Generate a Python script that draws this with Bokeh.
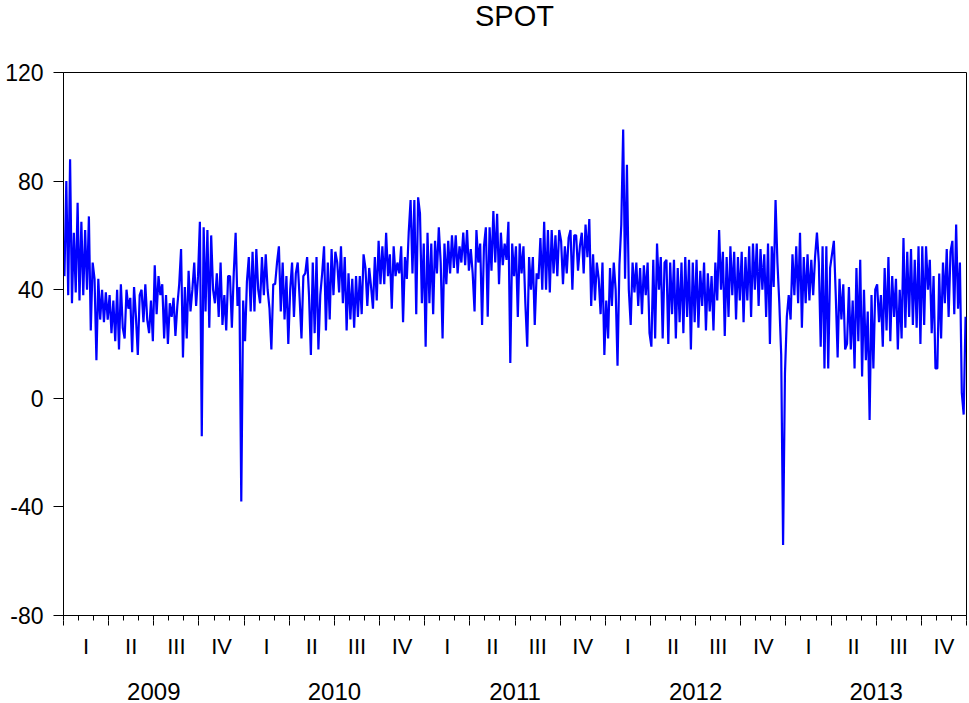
from bokeh.plotting import figure
from bokeh.models import Range1d, FixedTicker, LinearAxis, Div
from bokeh.layouts import column
from bokeh.embed import file_html
from bokeh.resources import INLINE

years = ["2009", "2010", "2011", "2012", "2013"]
quarters = ["I", "II", "III", "IV"]
y_ticks = [-80, -40, 0, 40, 80, 120]
points_per_month = 8

# SPOT price, 8 readings per month (Jan..Dec)
spot_2009 = [
    [45, 80, 38, 88, 35, 61, 39, 72],
    [36, 65, 38, 62, 40, 67, 25, 50],
    [44, 14, 44, 29, 40, 28, 39, 29],
    [38, 24, 36, 21, 40, 18, 42, 26],
    [22, 40, 33, 37, 17, 41, 30, 16],
    [38, 40, 28, 42, 29, 24, 36, 21],
    [49, 31, 45, 38, 42, 22, 38, 20],
    [35, 30, 37, 23, 34, 42, 55, 15],
    [41, 22, 47, 32, 40, 50, 34, 45],
    [65, -14, 63, 32, 62, 26, 60, 40],
    [35, 46, 30, 50, 27, 38, 25, 45],
    [45, 26, 46, 61, 34, 41, -38, 36],
]
spot_2010 = [
    [21, 43, 52, 32, 54, 32, 55, 40],
    [35, 52, 38, 53, 40, 33, 18, 42],
    [42, 50, 56, 32, 50, 29, 45, 20],
    [40, 50, 30, 46, 50, 37, 22, 45],
    [46, 52, 38, 16, 50, 24, 52, 18],
    [38, 46, 56, 25, 50, 29, 55, 38],
    [54, 50, 39, 56, 35, 52, 25, 46],
    [29, 44, 26, 45, 30, 45, 31, 53],
    [48, 34, 48, 41, 33, 52, 36, 58],
    [42, 56, 42, 61, 45, 53, 33, 56],
    [45, 50, 46, 56, 28, 52, 44, 61],
    [73, 46, 73, 31, 74, 68, 35, 57],
]
spot_2011 = [
    [19, 61, 35, 57, 31, 58, 46, 63],
    [50, 22, 57, 42, 58, 46, 60, 48],
    [60, 46, 56, 50, 61, 49, 62, 47],
    [55, 46, 32, 62, 50, 57, 27, 56],
    [63, 30, 63, 47, 69, 50, 68, 42],
    [61, 49, 57, 51, 65, 13, 57, 45],
    [56, 30, 57, 46, 56, 35, 19, 52],
    [40, 52, 27, 46, 44, 59, 40, 65],
    [40, 62, 39, 62, 46, 60, 45, 62],
    [58, 42, 56, 46, 59, 62, 40, 60],
    [60, 47, 56, 61, 46, 64, 52, 66],
    [34, 53, 36, 50, 44, 31, 50, 16],
]
spot_2012 = [
    [36, 22, 48, 34, 50, 40, 12, 49],
    [64, 99, 44, 86, 40, 27, 50, 39],
    [50, 34, 48, 31, 49, 38, 50, 24],
    [19, 51, 22, 57, 40, 52, 22, 50],
    [51, 20, 50, 31, 51, 22, 48, 28],
    [50, 24, 52, 30, 51, 18, 50, 28],
    [51, 26, 47, 34, 50, 25, 46, 32],
    [45, 25, 50, 36, 62, 40, 54, 23],
    [52, 30, 56, 38, 54, 29, 52, 36],
    [54, 28, 52, 36, 56, 30, 57, 40],
    [57, 34, 55, 40, 53, 30, 57, 20],
    [56, 41, 73, 50, 35, 16, -54, 9],
]
spot_2013 = [
    [30, 38, 29, 53, 38, 56, 35, 61],
    [26, 52, 35, 53, 36, 51, 38, 52],
    [61, 50, 19, 56, 11, 56, 11, 48],
    [53, 58, 38, 15, 44, 29, 42, 18],
    [20, 41, 18, 36, 11, 48, 21, 51],
    [8, 40, 14, 32, -8, 38, 11, 40],
    [42, 28, 38, 19, 48, 25, 52, 21],
    [45, 30, 44, 18, 40, 22, 59, 26],
    [54, 30, 55, 27, 51, 26, 56, 20],
    [56, 27, 56, 40, 51, 24, 45, 11],
    [11, 46, 22, 50, 35, 55, 30, 54],
    [58, 31, 64, 33, 50, 2, -6, 30],
]

all_years = [spot_2009, spot_2010, spot_2011, spot_2012, spot_2013]
xs, ys = [], []
for yi, year in enumerate(all_years):
    for mi, month in enumerate(year):
        m = yi * 12 + mi
        for i, v in enumerate(month):
            xs.append(m + (i + 0.5) / points_per_month)
            ys.append(v)

n_months = 12 * len(years)
FONT = "Liberation Sans"
TITLE_H = 40

title_div = Div(
    text=('<div style="display:block;width:909px;margin-left:60px;text-align:center;'
          'font-family:\'Liberation Sans\';font-size:29px;line-height:32px;color:black;">'
          'SPOT</div>'),
    width=969, height=TITLE_H, margin=0,
)

p = figure(width=969, height=703 - TITLE_H, output_backend="svg", toolbar_location=None,
           x_range=Range1d(0, n_months), y_range=Range1d(-80, 120),
           min_border_left=63, min_border_right=3, min_border_top=72 - TITLE_H,
           min_border_bottom=88, x_axis_location=None, margin=0)
p.outline_line_color = "black"
p.outline_line_width = 1
p.xgrid.visible = False
p.ygrid.visible = False
p.background_fill_color = "white"
p.border_fill_color = "white"

p.line(xs, ys, line_color="#0000FF", line_width=2.2)

# y axis
p.yaxis.ticker = FixedTicker(ticks=y_ticks, minor_ticks=[])
p.yaxis.major_label_overrides = {t: str(t) for t in y_ticks}
p.yaxis.major_tick_out = 10
p.yaxis.major_tick_in = 0
p.yaxis.minor_tick_out = 0
p.yaxis.minor_tick_in = 0
p.yaxis.major_label_text_font = FONT
p.yaxis.major_label_text_font_size = "23px"
p.yaxis.major_label_text_color = "black"
p.yaxis.major_label_standoff = 10
p.yaxis.axis_line_color = "black"
p.yaxis.major_tick_line_color = "black"

# monthly ticks (no labels)
ax_ticks = LinearAxis(ticker=FixedTicker(ticks=[], minor_ticks=list(range(0, n_months + 1))))
ax_ticks.minor_tick_out = 5
ax_ticks.minor_tick_in = 0
ax_ticks.major_tick_out = 0
ax_ticks.major_tick_in = 0
ax_ticks.major_label_standoff = 0
ax_ticks.axis_line_color = "black"
ax_ticks.minor_tick_line_color = "black"
p.add_layout(ax_ticks, "below")

# quarter labels, with the lower half of the quarter ticks
q_pos = [q * 3 + 1.5 for q in range(len(years) * 4)]
ax_q = LinearAxis(ticker=FixedTicker(ticks=q_pos,
                                     minor_ticks=list(range(0, n_months + 1, 3))))
ax_q.major_label_overrides = {pos: quarters[i % 4] for i, pos in enumerate(q_pos)}
ax_q.major_tick_out = 0
ax_q.major_tick_in = 0
ax_q.minor_tick_out = 5
ax_q.minor_tick_in = 0
ax_q.minor_tick_line_color = "black"
ax_q.axis_line_color = None
ax_q.major_label_text_font = FONT
ax_q.major_label_text_font_size = "22px"
ax_q.major_label_text_color = "black"
ax_q.major_label_standoff = 8
p.add_layout(ax_q, "below")

# year labels
y_pos = [yi * 12 + 6 for yi in range(len(years))]
ax_y = LinearAxis(ticker=FixedTicker(ticks=y_pos, minor_ticks=[]))
ax_y.major_label_overrides = {pos: years[i] for i, pos in enumerate(y_pos)}
ax_y.major_tick_out = 0
ax_y.major_tick_in = 0
ax_y.minor_tick_out = 0
ax_y.axis_line_color = None
ax_y.major_label_text_font = FONT
ax_y.major_label_text_font_size = "24px"
ax_y.major_label_text_color = "black"
ax_y.major_label_standoff = 21
p.add_layout(ax_y, "below")

layout = column(title_div, p, spacing=0)
open("out.html", "w").write(file_html(layout, INLINE))
